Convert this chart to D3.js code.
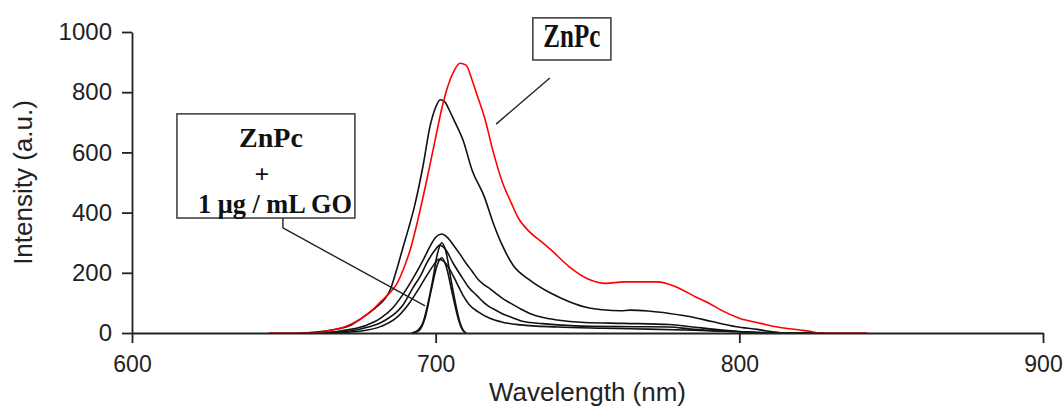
<!DOCTYPE html>
<html>
<head>
<meta charset="utf-8">
<script src="https://cdn.jsdelivr.net/npm/d3@7/dist/d3.min.js"></script>
<style>
  html, body { margin: 0; padding: 0; background: #fff; }
  svg { display: block; }
</style>
</head>
<body>
<svg id="chart" width="1064" height="408"></svg>
<script>
// ---------- data ----------
const xTicks = [600, 700, 800, 900];
const yTicks = [0, 200, 400, 600, 800, 1000];
const xTitle = "Wavelength (nm)";
const yTitle = "Intensity (a.u.)";

// ZnPc alone (red)
const znpc = [[645,0],[660,0],[665,8],[670,20],[675,45],[679,75],[682,105],[685,135],[687,160],[689.5,215],[692,290],[694,370],[697,505],[700,650],[702,745],[704,820],[706,870],[708,896],[710,890],[712,840],[714,780],[716,719],[719,600],[722,500],[725,430],[727,386],[731,335],[735,302],[738,276],[744,220],[751,176],[756,165],[762,170],[773,170],[779,154],[786,118],[790,99],[794,76],[800,49],[807,32],[813,19],[820,10],[824,4],[826,0],[842,0]];

// ZnPc + GO (black)
const goA = [[655,0],[663,6],[668,14],[672,26],[676,52],[680,82],[683,110],[685,143],[687,205],[689,276],[691,345],[693,420],[696,564],[698,680],[700,750],[701.5,775],[703,768],[704.5,740],[706,708],[709,641],[712,541],[716,453],[719,364],[722,290],[725.5,225],[731,176],[738,132],[744,104],[751,82],[755,77],[761,74],[764,76],[770,73],[777,65],[784,54],[791,38],[799,21],[806,12],[811,4],[815,0],[828,0]];
const goB = [[660,0],[667,4],[672,12],[677,25],[682,50],[686,85],[690,140],[693,190],[696,245],[698,285],[700,318],[702,329],[704,316],[706,290],[708,262],[710,232],[712,205],[714,178],[716,160],[718,146],[720,130],[722,115],[724.5,100],[728,80],[731,65],[735,52],[740,43],[749,35],[762,32],[777,28],[784,21],[792,12],[800,5],[808,1],[815,0],[825,0]];
const goC = [[662,0],[670,4],[676,15],[682,35],[686,60],[689,90],[692.5,150],[695,190],[697,231],[699.8,276],[701.4,292],[703,281],[705.8,231],[709,180],[711,150],[713.5,125],[716,100],[718,85],[720,75],[722.3,62],[724.5,54],[729,38],[735,31],[740,27],[751,22],[765,21],[777,20],[784,13],[792,8],[800,4],[810,0],[825,0]];
const goD = [[665,0],[675,6],[682,22],[687,50],[691,95],[694,140],[697,190],[699.5,228],[701,245],[703,235],[705,205],[707,165],[709,125],[711,95],[714,70],[718,48],[722,36],[728,27],[740,20],[755,16],[770,13],[785,9],[800,4],[815,0]];
const goE = [[692,0],[694,8],[696,40],[697.5,100],[699,175],[700.5,260],[702,300],[703.5,265],[705,180],[706.5,100],[708,35],[709,10],[710,0]];
const goF = [[692.5,0],[694.5,8],[696.5,50],[698.5,140],[700.5,225],[702,250],[703.5,220],[705.5,130],[707.5,45],[709,8],[710,0]];

const labelTop = ["ZnPc"];
const labelBox = ["ZnPc", "+", "1 μg / mL GO"];

// ---------- layout ----------
const svg = d3.select("#chart");
const plot = {left: 132, right: 1043, top: 32, bottom: 333};
const x = d3.scaleLinear().domain([600, 900]).range([plot.left, plot.right]);
const y = d3.scaleLinear().domain([0, 1000]).range([plot.bottom, plot.top]);

const axisColor = "#222";

// curves
const line = d3.line().x(d => x(d[0])).y(d => y(d[1])).curve(d3.curveMonotoneX);
const blackSeries = [goF, goE, goD, goC, goB, goA];
svg.append("g").selectAll("path").data(blackSeries).join("path")
  .attr("d", line).attr("fill", "none").attr("stroke", "#111").attr("stroke-width", 1.6);
svg.append("path").datum(znpc).attr("d", line)
  .attr("fill", "none").attr("stroke", "#ff0000").attr("stroke-width", 1.6);

// axes
const xAxis = d3.axisBottom(x).tickValues(xTicks).tickSize(10).tickSizeOuter(0).tickPadding(13).tickFormat(d3.format("d"));
const yAxis = d3.axisLeft(y).tickValues(yTicks).tickSize(10).tickSizeOuter(0).tickPadding(10).tickFormat(d3.format("d"));

const gx = svg.append("g").attr("transform", `translate(0,${plot.bottom})`).call(xAxis);
const gy = svg.append("g").attr("transform", `translate(${plot.left},0)`).call(yAxis);
[gx, gy].forEach(g => {
  g.selectAll("path, line").attr("stroke", axisColor).attr("stroke-width", 1.8);
  g.selectAll("text").attr("fill", "#222").style("font-family", "'Liberation Sans', Arial, sans-serif");
});
gx.selectAll("text").style("font-size", "23px");
gy.selectAll("text").style("font-size", "24px");

svg.append("text").attr("x", (plot.left + plot.right) / 2).attr("y", 401)
  .attr("text-anchor", "middle").attr("fill", "#222")
  .style("font-family", "'Liberation Sans', Arial, sans-serif").style("font-size", "26px")
  .text(xTitle);
svg.append("text").attr("transform", `translate(32,${(plot.top + plot.bottom) / 2}) rotate(-90)`)
  .attr("text-anchor", "middle").attr("fill", "#222")
  .style("font-family", "'Liberation Sans', Arial, sans-serif").style("font-size", "26px")
  .text(yTitle);

// ---------- annotations (in data coordinates) ----------
const serif = "'Liberation Serif', 'Times New Roman', serif";
// top box
const topBox = {x0: 732.0, x1: 757.7, y0: 1047, y1: 907};
svg.append("rect").attr("x", x(topBox.x0)).attr("y", y(topBox.y0))
  .attr("width", x(topBox.x1) - x(topBox.x0)).attr("height", y(topBox.y1) - y(topBox.y0))
  .attr("fill", "#fff").attr("stroke", "#444").attr("stroke-width", 1.6);
svg.append("text").attr("x", x((topBox.x0 + topBox.x1) / 2)).attr("y", y(topBox.y0) + 29)
  .attr("text-anchor", "middle").attr("fill", "#111")
  .attr("textLength", 57).attr("lengthAdjust", "spacingAndGlyphs")
  .style("font-family", serif).style("font-weight", "bold").style("font-size", "33px")
  .text(labelTop[0]);
svg.append("line").attr("x1", x(737.6)).attr("y1", y(847)).attr("x2", x(719.9)).attr("y2", y(694))
  .attr("stroke", "#222").attr("stroke-width", 1.4);

// lower box
const box = {x0: 614.8, x1: 673.4, y0: 728, y1: 382};
svg.append("rect").attr("x", x(box.x0)).attr("y", y(box.y0))
  .attr("width", x(box.x1) - x(box.x0)).attr("height", y(box.y1) - y(box.y0))
  .attr("fill", "#fff").attr("stroke", "#444").attr("stroke-width", 1.6);
const bx = x(box.x0), by = y(box.y0);
svg.append("text").attr("x", bx + 94).attr("y", by + 33).attr("text-anchor", "middle")
  .attr("fill", "#111").style("font-family", serif).style("font-weight", "bold").style("font-size", "28px")
  .text(labelBox[0]);
svg.append("text").attr("x", bx + 85).attr("y", by + 69).attr("text-anchor", "middle")
  .attr("fill", "#111").style("font-family", serif).style("font-weight", "bold").style("font-size", "26px")
  .text(labelBox[1]);
svg.append("text").attr("x", bx + 21).attr("y", by + 99)
  .attr("textLength", 154).attr("lengthAdjust", "spacingAndGlyphs")
  .attr("fill", "#111").style("font-family", serif).style("font-weight", "bold").style("font-size", "28px")
  .text(labelBox[2]);
svg.append("line").attr("x1", x(649.7)).attr("y1", y(382)).attr("x2", x(649.7)).attr("y2", y(349))
  .attr("stroke", "#222").attr("stroke-width", 1.4);
svg.append("line").attr("x1", x(649.7)).attr("y1", y(349)).attr("x2", x(696.5)).attr("y2", y(90))
  .attr("stroke", "#222").attr("stroke-width", 1.4);
</script>
</body>
</html>
